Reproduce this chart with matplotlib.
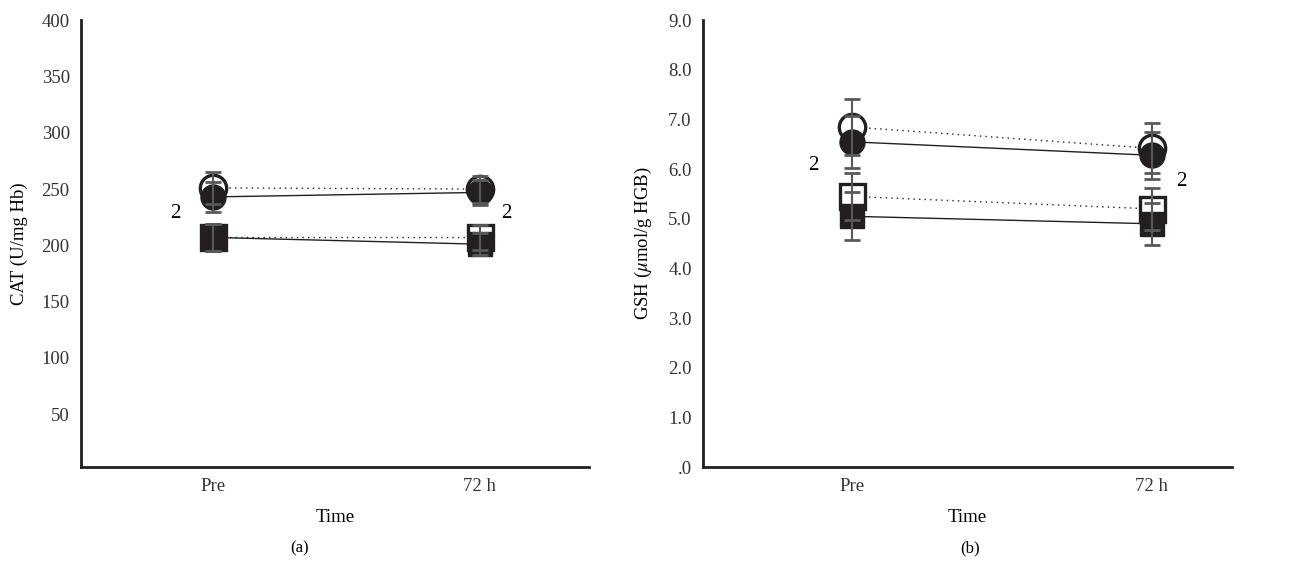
import numpy as np
import matplotlib
matplotlib.use("Agg")
import matplotlib.pyplot as plt

plt.rcParams['font.family'] = ['Liberation Serif', 'DejaVu Serif']
plt.rcParams['mathtext.fontset'] = 'stix'

# ==============================
# DATA
# ==============================
times = ["Pre", "72 h"]

# CAT (U/mg Hb)
cat_open_circle = [251, 250]
cat_open_circle_err = [14, 12]
cat_filled_circle = [243, 247]
cat_filled_circle_err = [13, 11]
cat_open_square = [207, 207]
cat_open_square_err = [12, 11]
cat_filled_square = [207, 201]
cat_filled_square_err = [12, 10]

# GSH (umol/g HGB)
gsh_open_circle = [6.85, 6.42]
gsh_open_circle_err = [0.57, 0.50]
gsh_filled_circle = [6.55, 6.28]
gsh_filled_circle_err = [0.53, 0.47]
gsh_open_square = [5.45, 5.20]
gsh_open_square_err = [0.48, 0.42]
gsh_filled_square = [5.05, 4.90]
gsh_filled_square_err = [0.48, 0.42]

cat_ticks = [50, 100, 150, 200, 250, 300, 350, 400]
gsh_ticks = [0, 1, 2, 3, 4, 5, 6, 7, 8, 9]
gsh_ticklabels = [".0", "1.0", "2.0", "3.0", "4.0", "5.0", "6.0", "7.0", "8.0", "9.0"]

DARK = "#231f20"
GREY = "#58595b"

fig = plt.figure(figsize=(13.04, 5.62), dpi=100)
ax1 = fig.add_axes([0.062, 0.169, 0.390, 0.795])
ax2 = fig.add_axes([0.539, 0.169, 0.406, 0.795])

x = np.arange(len(times))


def draw_panel(ax, oc, oce, fc, fce, os_, ose, fs, fse):
    # lines
    ax.plot(x, oc, ls=(0, (1, 3)), color=DARK, lw=1.0, zorder=1)
    ax.plot(x, fc, ls='-', color=DARK, lw=1.0, zorder=1)
    ax.plot(x, os_, ls=(0, (1, 3)), color=DARK, lw=1.0, zorder=1)
    ax.plot(x, fs, ls='-', color=DARK, lw=1.0, zorder=1)
    # markers
    ax.plot(x, oc, 'o', ms=19, mfc='white', mec=DARK, mew=2.4, ls='none', zorder=2)
    ax.plot(x, os_, 's', ms=18, mfc='white', mec=DARK, mew=2.4, ls='none', zorder=2)
    ax.plot(x, fc, 'o', ms=18, mfc=DARK, mec=DARK, ls='none', zorder=3)
    ax.plot(x, fs, 's', ms=17, mfc=DARK, mec=DARK, ls='none', zorder=3)
    # error bars
    for vals, errs in [(oc, oce), (fc, fce), (os_, ose), (fs, fse)]:
        ax.errorbar(x, vals, yerr=errs, fmt='none', ecolor=GREY, elinewidth=1.5,
                    capsize=6, capthick=2, zorder=4)
    for s in ['top', 'right']:
        ax.spines[s].set_visible(False)
    for s in ['left', 'bottom']:
        ax.spines[s].set_linewidth(2)
        ax.spines[s].set_color(DARK)
    ax.set_xticks(x)
    ax.set_xticklabels(times)
    ax.tick_params(length=0, labelsize=13.5, colors='#333333', pad=8)
    ax.set_xlabel("Time", fontsize=13.5, labelpad=10)


draw_panel(ax1, cat_open_circle, cat_open_circle_err, cat_filled_circle, cat_filled_circle_err,
           cat_open_square, cat_open_square_err, cat_filled_square, cat_filled_square_err)
ax1.set_xlim(-0.494, 1.41)
ax1.set_ylim(3, 400)
ax1.set_yticks(cat_ticks)
ax1.set_ylabel("CAT (U/mg Hb)", fontsize=13.5, labelpad=10)
ax1.text(-0.14, 228, "2", fontsize=15, ha='center', va='center')
ax1.text(1.10, 228, "2", fontsize=15, ha='center', va='center')

draw_panel(ax2, gsh_open_circle, gsh_open_circle_err, gsh_filled_circle, gsh_filled_circle_err,
           gsh_open_square, gsh_open_square_err, gsh_filled_square, gsh_filled_square_err)
ax2.set_xlim(-0.50, 1.27)
ax2.set_ylim(0.1, 9.0)
ax2.set_yticks(gsh_ticks)
ax2.set_yticklabels(gsh_ticklabels)
ax2.set_ylabel(r"GSH ($\mu$mol/g HGB)", fontsize=13.5, labelpad=10)
ax2.text(-0.13, 6.08, "2", fontsize=15, ha='center', va='center')
ax2.text(1.10, 5.75, "2", fontsize=15, ha='center', va='center')

fig.text(0.230, 0.025, "(a)", fontsize=12, ha='center', va='center')
fig.text(0.744, 0.025, "(b)", fontsize=12, ha='center', va='center')

fig.savefig("out.png", dpi=100)
